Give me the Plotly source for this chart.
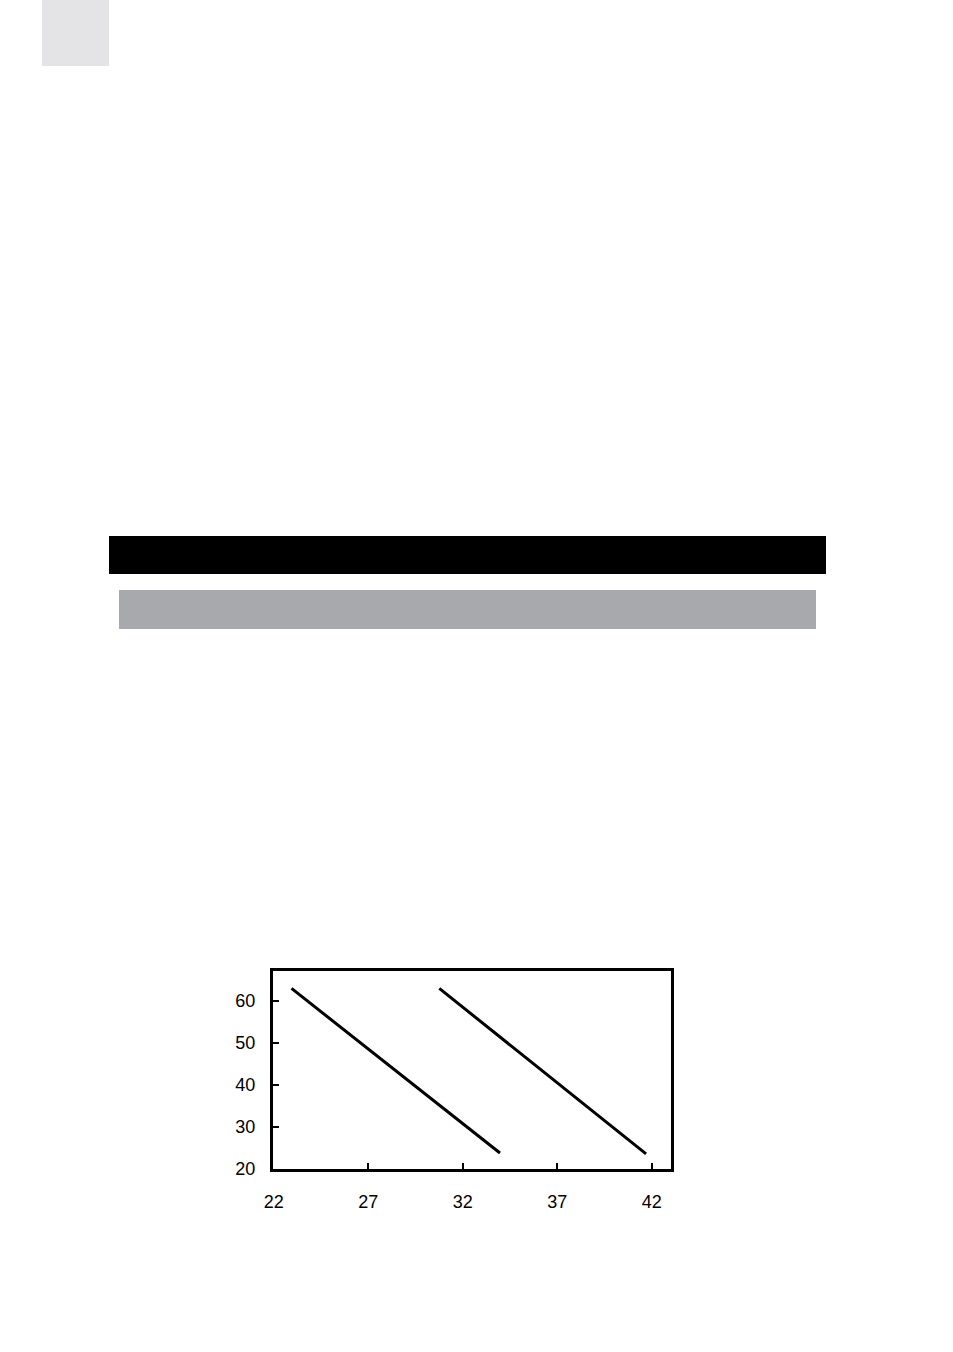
import plotly.graph_objects as go

# Data
line1_x = [22.94, 33.97]
line1_y = [63.0, 23.8]
line2_x = [30.76, 41.7]
line2_y = [63.0, 23.6]

x_ticks = [22, 27, 32, 37, 42]
y_ticks = [20, 30, 40, 50, 60]

W, H = 953, 1352
L, R, T, B = 273, 671, 971, 1169


def px(x):
    return (x - L) / (R - L)


def py(y):
    return (B - y) / (B - T)


fig = go.Figure()
fig.add_trace(go.Scatter(x=line1_x, y=line1_y, mode="lines",
                         line=dict(color="black", width=3), showlegend=False))
fig.add_trace(go.Scatter(x=line2_x, y=line2_y, mode="lines",
                         line=dict(color="black", width=3), showlegend=False))

shapes = [
    dict(type="rect", xref="paper", yref="paper", x0=px(42), x1=px(109), y0=py(66), y1=py(0),
         fillcolor="#e4e4e6", line=dict(width=0), layer="below"),
    dict(type="rect", xref="paper", yref="paper", x0=px(109), x1=px(826), y0=py(574), y1=py(536),
         fillcolor="#000000", line=dict(width=0), layer="below"),
    dict(type="rect", xref="paper", yref="paper", x0=px(119), x1=px(816), y0=py(629), y1=py(590),
         fillcolor="#a8a9ac", line=dict(width=0), layer="below"),
]

fig.update_layout(
    width=W, height=H,
    margin=dict(l=L, r=W - R, t=T, b=H - B, pad=0),
    paper_bgcolor="white", plot_bgcolor="white",
    font=dict(family="Liberation Sans, Arial, sans-serif", size=18, color="black"),
    shapes=shapes,
    showlegend=False,
)
fig.update_xaxes(range=[21.96, 43.02], tickvals=x_ticks, ticktext=[str(v) for v in x_ticks],
                 showline=True, linewidth=3, linecolor="black", mirror=True,
                 ticks="inside", ticklen=6, tickwidth=2, tickcolor="black",
                 showgrid=False, zeroline=False, ticklabelstandoff=14)
fig.update_yaxes(range=[20, 67.14], tickvals=y_ticks, ticktext=[str(v) for v in y_ticks],
                 showline=True, linewidth=3, linecolor="black", mirror=True,
                 ticks="inside", ticklen=6, tickwidth=2, tickcolor="black",
                 showgrid=False, zeroline=False, ticklabelstandoff=11)

fig.write_html("out.html", config={"displayModeBar": False},
               post_script="document.body.style.margin='0px';")
